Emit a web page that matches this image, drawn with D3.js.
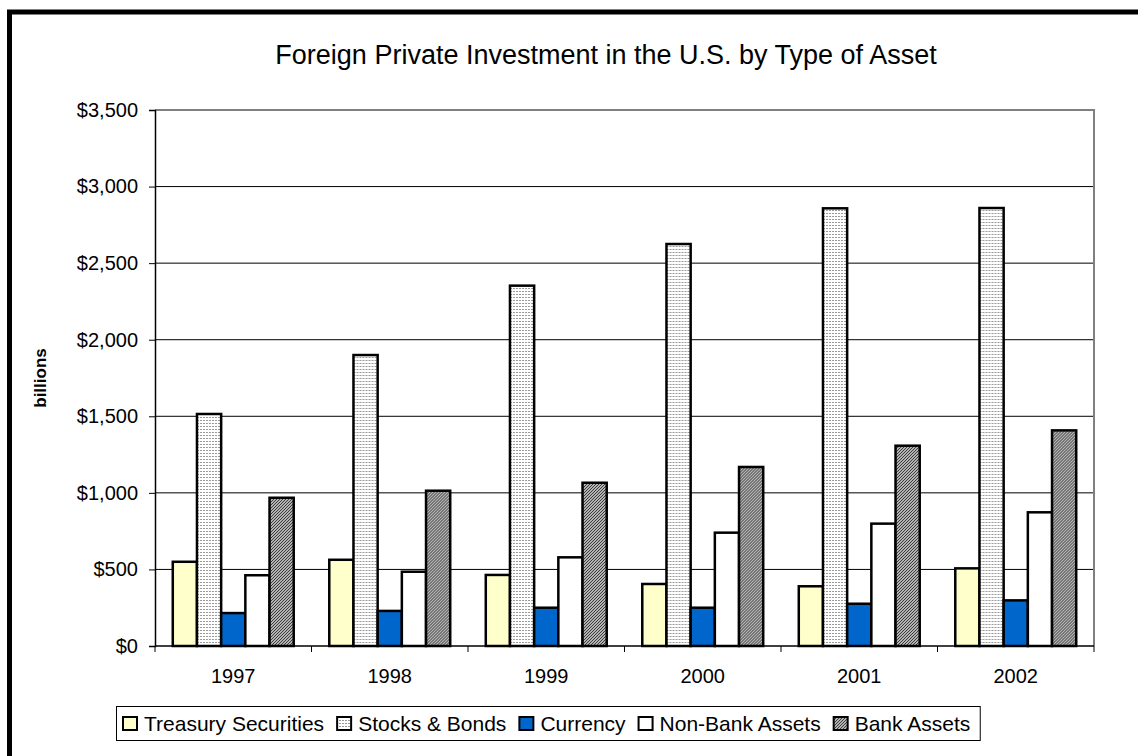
<!DOCTYPE html>
<html>
<head>
<meta charset="utf-8">
<script src="https://cdn.jsdelivr.net/npm/d3@7"></script>
<style>
  body { margin: 0; background: #fff; }
  svg { display: block; font-family: Arial, "Liberation Sans", sans-serif; }
</style>
</head>
<body>
<svg id="chart" width="1138" height="756"></svg>
<script>
// chart data
var years = ['1997', '1998', '1999', '2000', '2001', '2002'];
var seriesNames = ['Treasury Securities', 'Stocks & Bonds', 'Currency', 'Non-Bank Assets', 'Bank Assets'];
var treasury = [550, 563, 464, 405, 390, 507];
var stocksBonds = [1515, 1900, 2353, 2625, 2858, 2860];
var currency = [215, 229, 250, 250, 276, 298];
var nonBank = [462, 485, 579, 740, 799, 873];
var bankAssets = [968, 1014, 1066, 1169, 1308, 1408];
var yTicks = [0, 500, 1000, 1500, 2000, 2500, 3000, 3500];

var seriesValues = [treasury, stocksBonds, currency, nonBank, bankAssets];

var svg = d3.select('#chart');
var defs = svg.append('defs');

// fill patterns, roughly like the old excel ones
var dots = defs.append('pattern')
  .attr('id', 'dots').attr('patternUnits', 'userSpaceOnUse')
  .attr('width', 3).attr('height', 3);
dots.append('rect').attr('width', 3).attr('height', 3).attr('fill', '#fff');
dots.append('rect').attr('width', 2).attr('height', 1).attr('fill', '#9a9a9a');

var hatch = defs.append('pattern')
  .attr('id', 'hatch').attr('patternUnits', 'userSpaceOnUse')
  .attr('width', 3).attr('height', 3);
hatch.append('rect').attr('width', 3).attr('height', 3).attr('fill', '#e6e6e6');
hatch.append('path').attr('d', 'M0,3 L3,0 M-1,1 L1,-1 M2,4 L4,2')
  .attr('stroke', '#333').attr('stroke-width', 1.1);

var fills = ['#ffffcc', 'url(#dots)', '#0066cc', '#ffffff', 'url(#hatch)'];

// outer frame
svg.append('rect')
  .attr('x', 9.5).attr('y', 12)
  .attr('width', 1300).attr('height', 900)
  .attr('fill', '#fff').attr('stroke', '#000').attr('stroke-width', 5);

var margin = {left: 155, right: 1094, top: 110, bottom: 646};

var y = d3.scaleLinear()
  .domain([0, 3500])
  .range([margin.bottom, margin.top]);

var x0 = d3.scaleBand()
  .domain(years)
  .range([margin.left, margin.right])
  .padding(0);

// excel gap width ~150%
var barW = x0.bandwidth() / (seriesNames.length + 1.47);
var gap = x0.bandwidth() - barW * seriesNames.length;
var x1 = d3.scaleBand()
  .domain(seriesNames)
  .range([gap / 2, x0.bandwidth() - gap / 2])
  .padding(0);

// gridlines
svg.append('g')
  .selectAll('line')
  .data(yTicks.slice(1, -1))
  .enter()
  .append('line')
  .attr('x1', margin.left).attr('x2', margin.right)
  .attr('y1', d => y(d)).attr('y2', d => y(d))
  .attr('stroke', '#000').attr('stroke-width', 1);

// plot area border (top + right)
svg.append('path')
  .attr('d', 'M' + margin.left + ',' + margin.top + 'H' + margin.right + 'V' + margin.bottom)
  .attr('fill', 'none').attr('stroke', '#808080').attr('stroke-width', 2);

// bars
var groups = svg.append('g')
  .selectAll('g')
  .data(years)
  .enter()
  .append('g')
  .attr('transform', d => 'translate(' + x0(d) + ',0)');

groups.selectAll('rect')
  .data((d, i) => seriesNames.map((s, j) => ({name: s, idx: j, value: seriesValues[j][i]})))
  .enter()
  .append('rect')
  .attr('x', d => x1(d.name))
  .attr('y', d => y(d.value))
  .attr('width', x1.bandwidth())
  .attr('height', d => y(0) - y(d.value))
  .attr('fill', d => fills[d.idx])
  .attr('stroke', '#000')
  .attr('stroke-width', 2.5);

// y axis
var yAxis = d3.axisLeft(y)
  .tickValues(yTicks)
  .tickSize(6)
  .tickPadding(11)
  .tickFormat(d => '$' + d3.format(',')(d));

var gy = svg.append('g')
  .attr('transform', 'translate(' + margin.left + ',0)')
  .call(yAxis);
gy.select('.domain').attr('stroke', '#000').attr('stroke-width', 1.5);
gy.selectAll('.tick line').attr('stroke', '#000');
gy.selectAll('text')
  .attr('font-size', '20px')
  .attr('font-family', 'Arial, "Liberation Sans", sans-serif')
  .attr('fill', '#000');

// x axis: ticks sit between categories like excel
var gx = svg.append('g')
  .attr('transform', 'translate(0,' + margin.bottom + ')');
gx.append('line')
  .attr('x1', margin.left).attr('x2', margin.right)
  .attr('stroke', '#000').attr('stroke-width', 1.5);
gx.selectAll('.sep')
  .data(years.concat(['end']))
  .enter()
  .append('line')
  .attr('class', 'sep')
  .attr('x1', (d, i) => margin.left + i * x0.step())
  .attr('x2', (d, i) => margin.left + i * x0.step())
  .attr('y1', 0).attr('y2', 6)
  .attr('stroke', '#000');
gx.selectAll('.lbl')
  .data(years)
  .enter()
  .append('text')
  .attr('class', 'lbl')
  .attr('x', d => x0(d) + x0.bandwidth() / 2)
  .attr('y', 37)
  .attr('text-anchor', 'middle')
  .attr('font-size', '20px')
  .text(d => d);

// title
svg.append('text')
  .attr('x', 606)
  .attr('y', 64)
  .attr('text-anchor', 'middle')
  .attr('font-size', '27px')
  .text('Foreign Private Investment in the U.S. by Type of Asset');

// y label
svg.append('text')
  .attr('transform', 'translate(46,' + ((margin.top + margin.bottom) / 2) + ') rotate(-90)')
  .attr('text-anchor', 'middle')
  .attr('font-size', '17px')
  .attr('font-weight', 'bold')
  .text('billions');

// legend
var legend = svg.append('g');
var legendBox = legend.append('rect')
  .attr('x', 116.5).attr('y', 706.5)
  .attr('height', 34)
  .attr('fill', '#fff').attr('stroke', '#000').attr('stroke-width', 1);

var lx = 123;
seriesNames.forEach(function(name, i) {
  legend.append('rect')
    .attr('x', lx).attr('y', 717)
    .attr('width', 14).attr('height', 13)
    .attr('fill', fills[i])
    .attr('stroke', '#000').attr('stroke-width', 2);
  var t = legend.append('text')
    .attr('x', lx + 21)
    .attr('y', 731)
    .attr('font-size', '21px')
    .text(name);
  lx += 21 + t.node().getComputedTextLength() + 13;
});
legendBox.attr('width', lx - 116.5 - 3);
</script>
</body>
</html>
